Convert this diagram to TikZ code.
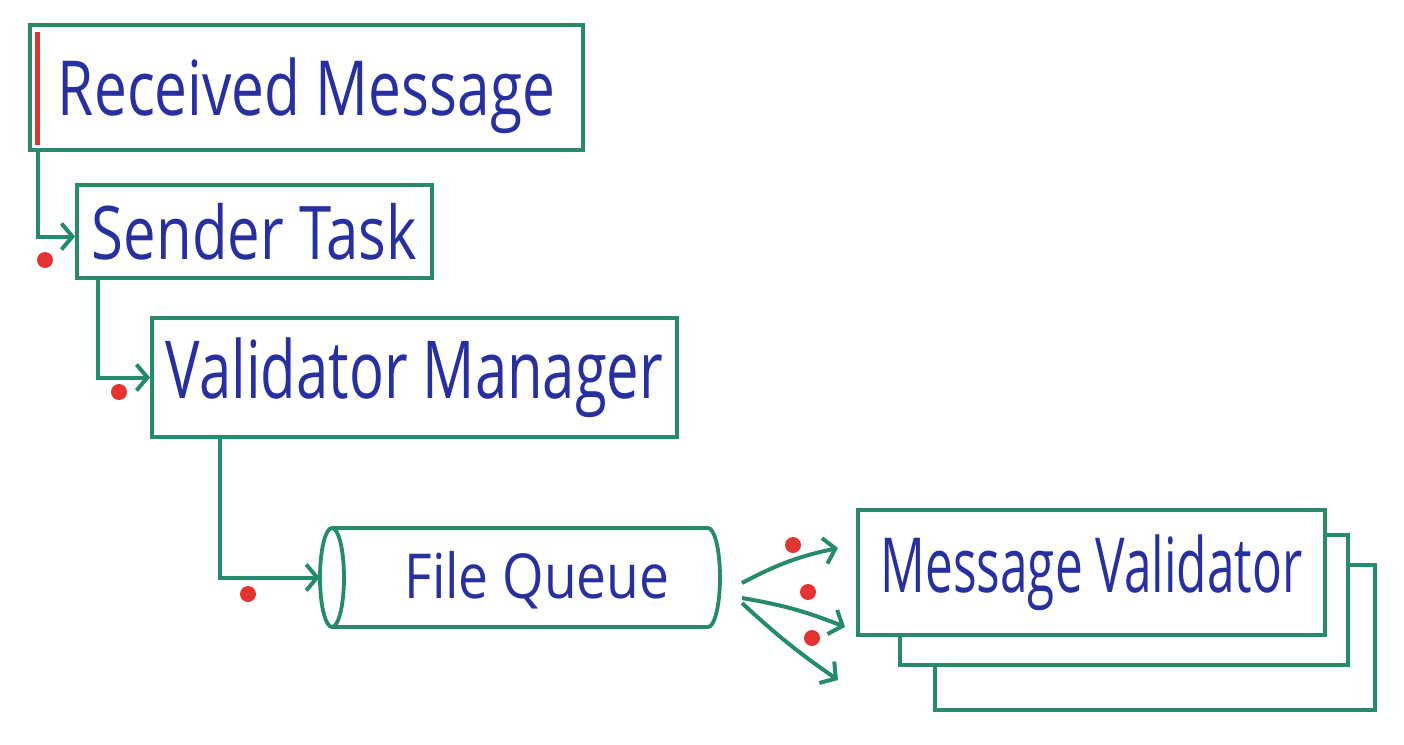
\documentclass[tikz,border=0pt]{standalone}
\usepackage{fontspec}
\setmainfont{Open Sans}
\usetikzlibrary{arrows.meta}
\definecolor{pen}{RGB}{38,138,108}
\definecolor{ink}{RGB}{40,48,160}
\definecolor{redmark}{RGB}{228,52,50}
\newcommand{\hw}[3]{\resizebox{#1pt}{\height}{\fontsize{#2}{#2}\selectfont #3}}
\tikzset{
  box/.style={draw=pen, line width=3.8pt, fill=white, rectangle, inner sep=0pt, text=ink},
  lbl/.style={text=ink, inner sep=0pt},
  conn/.style={draw=pen, line width=4pt, -{Straight Barb[length=11pt,width=26pt,line width=4pt]}},
  dot/.style={circle, fill=redmark, inner sep=0pt, minimum size=16pt},
}
\begin{document}
\begin{tikzpicture}[x=1pt,y=-1pt]
\useasboundingbox (0,0) rectangle (1404,744);
% boxes
\node[box, minimum width=553pt, minimum height=125pt] (rm) at (306.5,87.5) {};
\node[lbl] (rmt) at (306.5,96) {\hw{497}{76}{Received Message}};
\draw[draw=redmark, line width=5pt] (37,32) -- (37,145);
\node[box, minimum width=355pt, minimum height=93pt] (st) at (254.5,231.5) {\hw{325}{74}{Sender Task}};
\node[box, minimum width=525pt, minimum height=119pt] (vm) at (414.5,377.5) {\hw{497}{80}{Validator Manager}};
% file queue (cylinder)
\node[rectangle, inner sep=0pt, minimum width=400pt, minimum height=99pt] (fq) at (520,577.5) {};
\draw[pen, line width=3.8pt, fill=white]
  (332,528) arc[start angle=90, end angle=270, x radius=12pt, y radius=49.5pt]
  -- (708,627) arc[start angle=-90, end angle=90, x radius=12pt, y radius=49.5pt]
  -- cycle;
\draw[pen, line width=3.8pt] (332,528) arc[start angle=90, end angle=-90, x radius=12pt, y radius=49.5pt];
\node[lbl] (fqt) at (537,580) {\hw{265}{62}{File Queue}};
% message validators
\node[box, minimum width=440pt, minimum height=145pt] (mv3) at (1155,637.5) {};
\node[box, minimum width=448pt, minimum height=130pt] (mv2) at (1124,600) {};
\node[box, minimum width=467pt, minimum height=125pt] (mv) at (1091.5,572.5) {\hw{422}{76}{Message Validator}};
% connectors
\draw[conn] ([xshift=10pt]rm.south west) |- ([yshift=-5pt]st.west);
\draw[conn] ([xshift=23pt]st.south west) |- (vm.west);
\draw[conn] ([xshift=70pt]vm.south west) |- (fq.west);
\coordinate (s1) at (742,583);
\coordinate (s2) at (742,598);
\coordinate (s3) at (742,603);
\coordinate (e1) at (838,548);
\coordinate (e2) at (845,627);
\coordinate (e3) at (838,680);
\draw[conn] (s1) to[bend left=8] (e1);
\draw[conn] (s2) to[bend left=6] (e2);
\draw[conn] (s3) to[bend right=4] (e3);
% red marks
\node[dot] (d0) at (45,260) {};
\node[dot] (d1) at (119,392) {};
\node[dot] (d2) at (248,594) {};
\node[dot] (d3) at (793,545) {};
\node[dot] (d4) at (808,592) {};
\node[dot] (d5) at (812,638) {};
\end{tikzpicture}
\end{document}
